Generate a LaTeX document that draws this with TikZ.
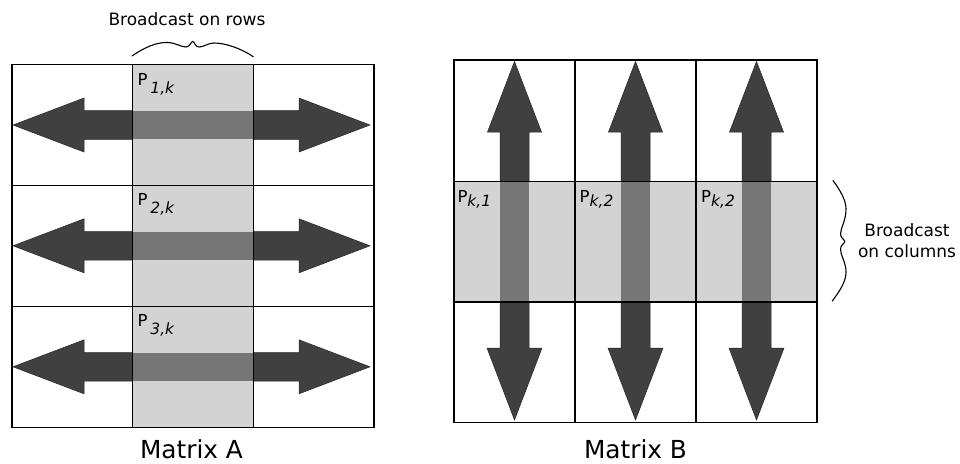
\documentclass[tikz,border=0pt]{standalone}
\usepackage{fontspec}
\setmainfont{DejaVu Sans}
\definecolor{arrowdark}{HTML}{404040}
\definecolor{bandmid}{HTML}{767676}
\definecolor{cellgray}{HTML}{D3D3D3}
\tikzset{
  arrowshape/.style={fill=arrowdark, draw=black!85, line width=0.5pt, line join=miter},
  bandbox/.style={fill=bandmid},
  gridline/.style={draw=black, line width=1.3pt},
  bracepath/.style={draw=black, line width=1.1pt, line cap=round},
  plabel/.style={anchor=base west, inner sep=0pt, font=\fontsize{16.5}{18}\selectfont},
  caption/.style={anchor=base, inner sep=0pt, font=\fontsize{24.8}{28}\selectfont},
  bcast/.style={anchor=base, inner sep=0pt, font=\fontsize{17}{20}\selectfont}
}
\newcommand{\subA}[1]{\kern3pt\raisebox{-8pt}{\fontsize{15.5}{17}\selectfont\itshape #1}}
\newcommand{\subB}[1]{\raisebox{-4.5pt}{\fontsize{15.5}{17}\selectfont\itshape #1}}
\begin{document}
\begin{tikzpicture}[x=1pt,y=-1pt]
\useasboundingbox (0,0) rectangle (960,463);

% ---------------- Matrix A ----------------
\fill[white] (12,64.5) rectangle (374,427.3);
\fill[cellgray] (132.7,64.5) rectangle (253.3,427.3);
\foreach \cy in {125,245.8,366.8}{
  \filldraw[arrowshape] (13,\cy) -- (84,{\cy-27}) -- (84,{\cy-14.3}) -- (132.7,{\cy-14.3})
      -- (132.7,{\cy+14.3}) -- (84,{\cy+14.3}) -- (84,{\cy+27}) -- cycle;
  \filldraw[arrowshape] (253.3,{\cy-14.3}) -- (299,{\cy-14.3}) -- (299,{\cy-27}) -- (370,\cy)
      -- (299,{\cy+27}) -- (299,{\cy+14.3}) -- (253.3,{\cy+14.3}) -- cycle;
  \fill[bandbox] (132.7,{\cy-14.3}) rectangle (253.3,{\cy+14.3});
}
\draw[gridline] (12,64.5) rectangle (374,427.3);
\draw[gridline] (132.7,64.5) -- (132.7,427.3);
\draw[gridline] (253.3,64.5) -- (253.3,427.3);
\draw[gridline] (12,185.3) -- (374,185.3);
\draw[gridline] (12,306.3) -- (374,306.3);

\node[plabel] (pA1) at (137.3,85.5) {P\subA{1,k}};
\node[plabel] (pA2) at (137.3,205.5) {P\subA{2,k}};
\node[plabel] (pA3) at (137.3,326.8) {P\subA{3,k}};

% brace over column
\draw[bracepath] (132,56) .. controls (145,47) and (157,42) .. (168,42.5)
   .. controls (176,43) and (181,47) .. (186,47)
   .. controls (190,47) and (191,41.5) .. (192.7,41.5)
   .. controls (194.5,41.5) and (195,47) .. (199,47)
   .. controls (204,47) and (208,43) .. (214,43)
   .. controls (226,43) and (242,49) .. (253.3,56.7);
\node[bcast] (rowslabel) at (187,25) {Broadcast on rows};

\node[caption] (capA) at (191.5,458.7) {Matrix A};

% ---------------- Matrix B ----------------
\fill[white] (454,60) rectangle (817,422.7);
\fill[cellgray] (454,181.3) rectangle (817,302);
\foreach \cx in {514.5,635.5,756.5}{
  \filldraw[arrowshape] (\cx,61.5) -- ({\cx+27},132) -- ({\cx+14.5},132) -- ({\cx+14.5},181.3)
      -- ({\cx-14.5},181.3) -- ({\cx-14.5},132) -- ({\cx-27},132) -- cycle;
  \fill[bandbox] ({\cx-14.5},181.3) rectangle ({\cx+14.5},302);
  \filldraw[arrowshape] ({\cx-14.5},302) -- ({\cx+14.5},302) -- ({\cx+14.5},348) -- ({\cx+27.5},348)
      -- (\cx,420) -- ({\cx-27.5},348) -- ({\cx-14.5},348) -- cycle;
}
\draw[gridline] (454,60) rectangle (817,422.7);
\draw[gridline] (575,60) -- (575,422.7);
\draw[gridline] (696,60) -- (696,422.7);
\draw[gridline] (454,181.3) -- (817,181.3);
\draw[gridline] (454,302) -- (817,302);

\node[plabel] (pB1) at (457.3,202) {P\subB{k,1}};
\node[plabel] (pB2) at (579.5,202) {P\subB{k,2}};
\node[plabel] (pB3) at (701,202) {P\subB{k,2}};

% brace beside row
\draw[bracepath] (833,180.5) .. controls (840,190) and (846,200) .. (846,209)
   .. controls (846,221) and (840.5,228) .. (840.5,234)
   .. controls (840.5,238) and (844.5,239.5) .. (844.8,241.5)
   .. controls (844.5,243.5) and (840.5,245) .. (840.5,249)
   .. controls (840.5,256) and (846,262) .. (846,272)
   .. controls (846,283) and (838,293) .. (832.3,301);
\node[bcast] (colslabel1) at (907,236.7) {Broadcast};
\node[bcast] (colslabel2) at (907,257) {on columns};

\node[caption] (capB) at (635.5,458.7) {Matrix B};
\end{tikzpicture}
\end{document}
